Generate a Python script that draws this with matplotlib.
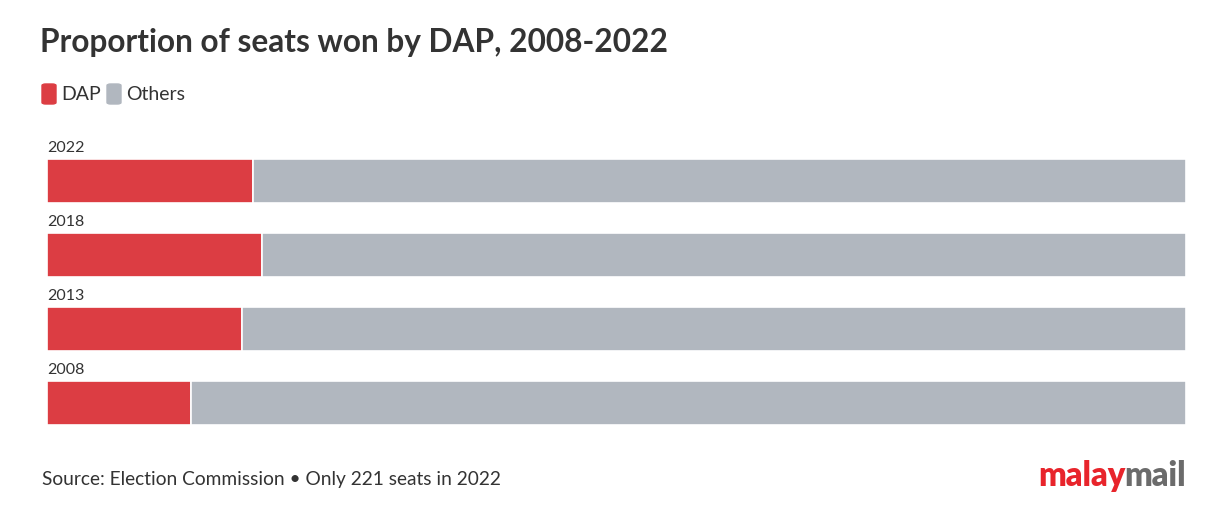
import matplotlib.pyplot as plt
from matplotlib.patches import FancyBboxPatch

# data
years = ["2022", "2018", "2013", "2008"]
dap_seats = [40, 42, 38, 28]
total_seats = [221, 222, 222, 222]
others_seats = [t - d for t, d in zip(total_seats, dap_seats)]

red = "#DC3D43"
grey = "#B1B7BF"
text_col = "#333333"

plt.rcParams['font.family'] = ['Lato', 'DejaVu Sans']

W, H = 1225, 513
fig = plt.figure(figsize=(W / 100, H / 100), dpi=100)

# axes in pixel terms
left, right, top, bottom = 47, 1186, 159, 425
ax = fig.add_axes([left / W, (H - bottom) / H, (right - left) / W, (bottom - top) / H])

h = 44 / 74
dap_share = [d / t for d, t in zip(dap_seats, total_seats)]
oth_share = [o / t for o, t in zip(others_seats, total_seats)]
ypos = list(range(len(years)))
ax.barh(ypos, dap_share, height=h, color=red, edgecolor="white", linewidth=1.2)
ax.barh(ypos, oth_share, left=dap_share, height=h, color=grey, edgecolor="white", linewidth=1.2)
ax.set_xlim(0, 1)
ax.set_ylim(len(years) - 1 + h / 2, -h / 2)
ax.axis("off")

for i, y in enumerate(years):
    ax.text(0, i - h / 2 - 0.05, y, fontsize=11.5, color=text_col, va="bottom", ha="left")

# title
fig.text(40 / W, 1 - 43 / H, "Proportion of seats won by DAP, 2008-2022", fontsize=22.8,
         fontweight="bold", color=text_col, va="center", ha="left")

# legend
for x0, col, lab in [(42, red, "DAP"), (107, grey, "Others")]:
    fig.patches.append(FancyBboxPatch((x0 / W, 1 - 104 / H), 14 / W, 20 / H,
                                      boxstyle="round,pad=0,rounding_size=0.003",
                                      transform=fig.transFigure, color=col))
    fig.text((x0 + 19) / W, 1 - 94 / H, lab, fontsize=14, color=text_col, va="center", ha="left")

# source
fig.text(42 / W, 1 - 480 / H, "Source: Election Commission \u2022 Only 221 seats in 2022",
         fontsize=13.8, color=text_col, va="center", ha="left")

# logo
m2 = fig.text(1186 / W, 1 - 476 / H, "mail", fontsize=23.5, fontweight="heavy",
              color="#6B6B6B", va="center", ha="right")
fig.canvas.draw()
bb = m2.get_window_extent()
fig.text(bb.x0 / W + 0.001, 1 - 476 / H, "malay", fontsize=23.5, fontweight="heavy",
         color="#E8242B", va="center", ha="right")

fig.savefig("out.png", dpi=100, facecolor="white")
